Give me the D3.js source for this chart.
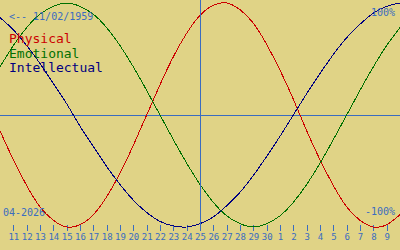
<!DOCTYPE html>
<html>
<head>
<meta charset="utf-8">
<script src="https://cdn.jsdelivr.net/npm/d3@7"></script>
<style>
html,body{margin:0;padding:0;background:#e0d386;}
svg{display:block;}
</style>
</head>
<body>
<svg id="chart" width="400" height="250"></svg>
<script>
// day offsets relative to the selected date (25 April 2026)
const offsets = d3.range(-15, 16);
// tick labels (day of month) for offsets -14..14
const tickLabels = ["11","12","13","14","15","16","17","18","19","20","21","22","23","24","25","26","27","28","29","30","1","2","3","4","5","6","7","8","9"];
const tickOffsets = d3.range(-14, 15);
// series values in percent, one per day offset -15..15
const physical = [-14,-40,-63,-82,-94,-100,-98,-89,-73,-52,-27,0,27,52,73,89,98,100,94,82,63,40,14,-14,-40,-63,-82,-94,-100,-98,-89];
const emotional = [43,62,78,90,97,100,97,90,78,62,43,22,0,-22,-43,-62,-78,-90,-97,-100,-97,-90,-78,-62,-43,-22,0,22,43,62,78];
const intellectual = [87,76,62,46,28,10,-10,-28,-46,-62,-76,-87,-95,-99,-100,-97,-91,-81,-69,-54,-37,-19,0,19,37,54,69,81,91,97,100];
const seriesNames = ["Physical","Emotional","Intellectual"];
const seriesColors = ["#cc0000","#007000","#000080"];
const birthLabel = "<-- 11/02/1959";
const monthLabel = "04-2026";

const svg = d3.select("#chart");
const W = 400, H = 250;
const bg = "#e0d386", axisBlue = "#3a6cc0";
svg.append("rect").attr("width", W).attr("height", H).attr("fill", bg);

const x = d3.scaleLinear().domain([-15, 15]).range([0, 400]);
const y = d3.scaleLinear().domain([-100, 100]).range([227, 3]);

// center lines
svg.append("line").attr("x1", 0).attr("x2", W).attr("y1", 115.5).attr("y2", 115.5)
  .attr("stroke", axisBlue).attr("stroke-width", 1).attr("shape-rendering", "crispEdges");

// ticks axis
const axis = d3.axisBottom(x).tickValues(tickOffsets)
  .tickFormat((d, i) => tickLabels[i]).tickSize(6).tickPadding(3);
const g = svg.append("g").attr("transform", "translate(0,225)").call(axis);
g.select(".domain").remove();
g.selectAll("line").attr("stroke", axisBlue).attr("shape-rendering", "crispEdges");
g.selectAll("text").attr("fill", axisBlue)
  .style("font-family", "'DejaVu Sans Mono', monospace").style("font-size", "9px");

// curves
const line = d3.line().x((d, i) => x(offsets[i])).y(d => y(d)).curve(d3.curveNatural);
[physical, emotional, intellectual].forEach((s, k) => {
  svg.append("path").datum(s).attr("d", line).attr("fill", "none")
    .attr("stroke", seriesColors[k]).attr("stroke-width", 1)
    .attr("shape-rendering", "crispEdges");
});

svg.append("line").attr("x1", x(0) + 0.5).attr("x2", x(0) + 0.5).attr("y1", 0).attr("y2", 231)
  .attr("stroke", axisBlue).attr("stroke-width", 1).attr("shape-rendering", "crispEdges");

const font = "'DejaVu Sans Mono', monospace";
function txt(str, tx, ty, size, color, anchor) {
  svg.append("text").attr("x", tx).attr("y", ty).text(str)
    .attr("fill", color).attr("text-anchor", anchor || "start")
    .style("font-family", font).style("font-size", size + "px");
}
txt(birthLabel, 9, 20, 10, axisBlue);
txt("100%", 395, 16, 10, axisBlue, "end");
txt("-100%", 395, 215, 10, axisBlue, "end");
txt(monthLabel, 3, 216, 10, axisBlue);
seriesNames.forEach((n, k) => txt(n, 9, [43, 57.5, 72][k], 13, seriesColors[k]));
</script>
</body>
</html>
